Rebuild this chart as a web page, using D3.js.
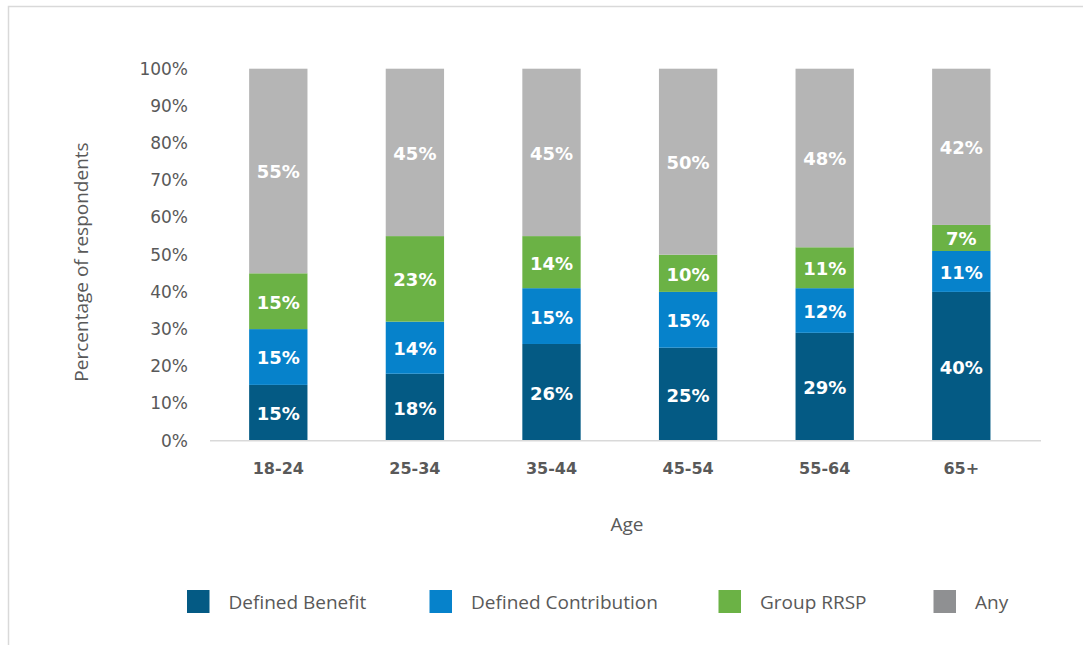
<!DOCTYPE html>
<html>
<head>
<meta charset="utf-8">
<script src="https://cdn.jsdelivr.net/npm/d3@7"></script>
<style>
  html, body { margin: 0; padding: 0; background: #ffffff; }
  svg { display: block; font-family: "Open Sans", "Noto Sans", sans-serif; }
</style>
</head>
<body>
<svg id="chart" width="1083" height="645"></svg>
<script>
// Pension plan type by age group (percent of respondents)
const ageGroups = ["18-24", "25-34", "35-44", "45-54", "55-64", "65+"];
const seriesNames = ["Defined Benefit", "Defined Contribution", "Group RRSP", "Any"];
const definedBenefit = [15, 18, 26, 25, 29, 40];
const definedContribution = [15, 14, 15, 15, 12, 11];
const groupRRSP = [15, 23, 14, 10, 11, 7];
const anyPlan = [55, 45, 45, 50, 48, 42];
const yTicks = [0, 10, 20, 30, 40, 50, 60, 70, 80, 90, 100];

const barColors = ["#045a84", "#0682cb", "#6bb245", "#b5b5b5"];
const legendColors = ["#045a84", "#0682cb", "#6bb245", "#8f9092"];
const textGray = "#595959";
const numberFont = "\"DejaVu Sans\", sans-serif";

const rows = ageGroups.map((age, i) => ({
  age,
  "Defined Benefit": definedBenefit[i],
  "Defined Contribution": definedContribution[i],
  "Group RRSP": groupRRSP[i],
  "Any": anyPlan[i]
}));

const svg = d3.select("#chart");

// frame
svg.append("path")
  .attr("d", "M8.5,645 V6.5 H1083")
  .attr("fill", "none")
  .attr("stroke", "#d9d9d9")
  .attr("stroke-width", 1.5);

const x = d3.scaleBand()
  .domain(ageGroups)
  .range([210, 1029.6])
  .paddingInner(0.573)
  .paddingOuter(0.2865);

const y = d3.scaleLinear()
  .domain([0, 100])
  .range([440.7, 68.7]);

const stacked = d3.stack().keys(seriesNames)(rows);

// stacked bars
const layers = svg.append("g")
  .selectAll("g")
  .data(stacked)
  .join("g")
  .attr("fill", (d, i) => barColors[i]);

layers.selectAll("rect")
  .data(d => d)
  .join("rect")
  .attr("x", d => x(d.data.age))
  .attr("width", x.bandwidth())
  .attr("y", d => y(d[1]))
  .attr("height", d => y(d[0]) - y(d[1]));

// value labels
layers.selectAll("text")
  .data(d => d.map(v => ({ v, key: d.key })))
  .join("text")
  .attr("x", d => x(d.v.data.age) + x.bandwidth() / 2)
  .attr("y", d => (y(d.v[0]) + y(d.v[1])) / 2 + 1)
  .attr("dy", "0.36em")
  .attr("text-anchor", "middle")
  .attr("fill", "#ffffff")
  .attr("font-family", numberFont)
  .attr("font-weight", 700)
  .attr("font-size", 18)
  .text(d => d.v.data[d.key] + "%");

// baseline
svg.append("line")
  .attr("x1", 210).attr("x2", 1041)
  .attr("y1", y(0)).attr("y2", y(0))
  .attr("stroke", "#d9d9d9")
  .attr("stroke-width", 1.5);

// y axis (labels only)
const yAxis = svg.append("g")
  .attr("transform", "translate(188,0)")
  .call(d3.axisLeft(y).tickValues(yTicks).tickSize(0).tickPadding(0).tickFormat(d => d + "%"));
yAxis.select(".domain").remove();
yAxis.selectAll("text")
  .attr("fill", textGray)
  .attr("font-size", 17)
  .attr("font-family", numberFont);

// x axis (labels only)
const xAxis = svg.append("g")
  .attr("transform", "translate(0,463)")
  .call(d3.axisBottom(x).tickSize(0).tickPadding(0));
xAxis.select(".domain").remove();
xAxis.selectAll("text")
  .attr("fill", textGray)
  .attr("font-size", 16)
  .attr("font-weight", 700)
  .attr("font-family", numberFont);

// axis titles
svg.append("text")
  .attr("transform", "translate(88,262) rotate(-90)")
  .attr("text-anchor", "middle")
  .attr("fill", textGray)
  .attr("font-size", 19)
  .text("Percentage of respondents");

svg.append("text")
  .attr("x", 627)
  .attr("y", 531)
  .attr("text-anchor", "middle")
  .attr("fill", textGray)
  .attr("font-size", 19)
  .text("Age");

// legend
const legendX = [187, 429.5, 718.5, 933.5];
const legend = svg.append("g")
  .selectAll("g")
  .data(seriesNames)
  .join("g")
  .attr("transform", (d, i) => "translate(" + legendX[i] + ",590)");

legend.append("rect")
  .attr("width", 22.5)
  .attr("height", 23)
  .attr("fill", (d, i) => legendColors[i]);

legend.append("text")
  .attr("x", 41.5)
  .attr("y", 18.5)
  .attr("fill", textGray)
  .attr("font-size", 19)
  .text(d => d);
</script>
</body>
</html>
